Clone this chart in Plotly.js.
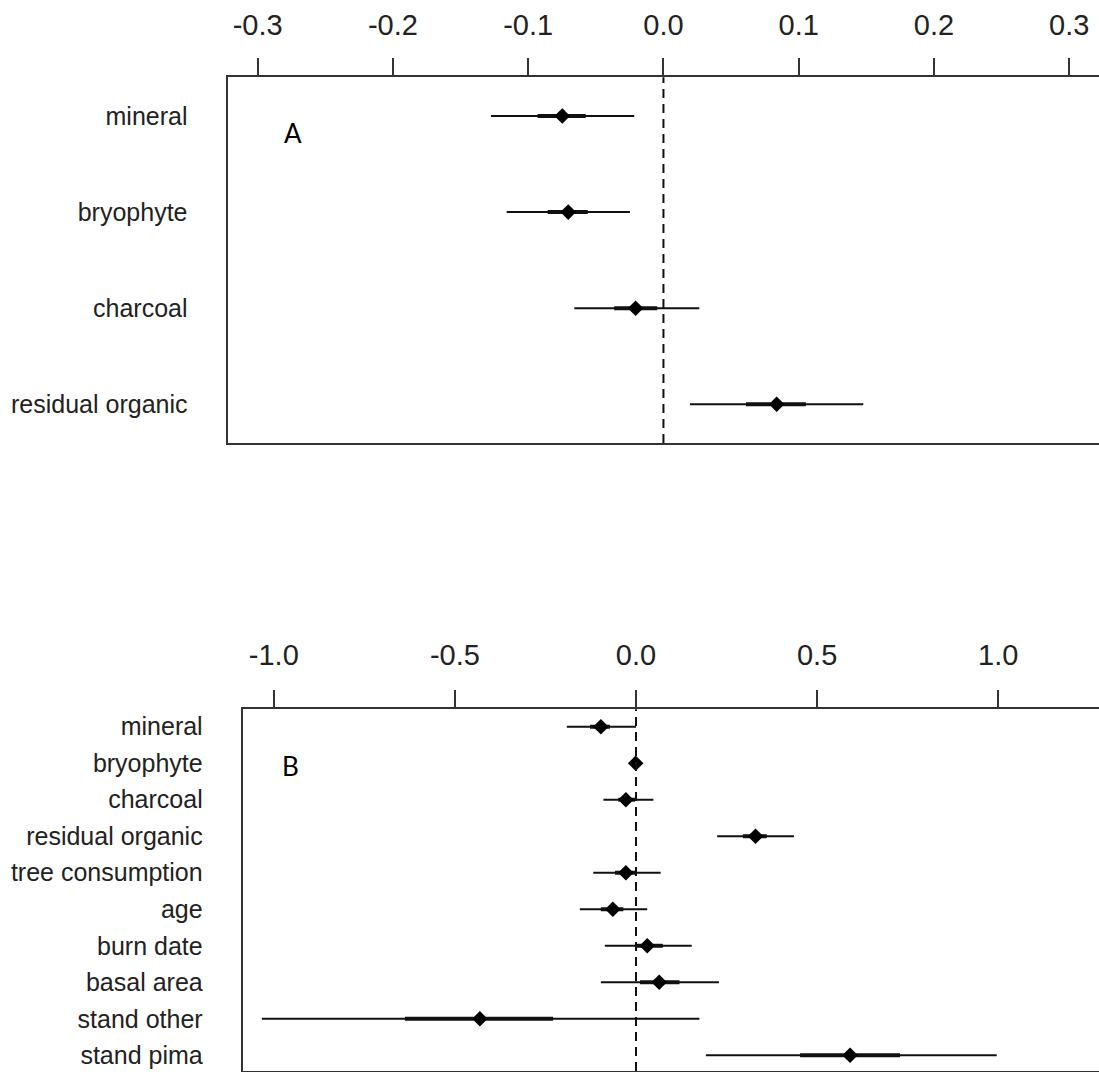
<!DOCTYPE html>
<html>
<head>
<meta charset="utf-8">
<script src="https://cdn.plot.ly/plotly-3.0.1.min.js"></script>
<style>html,body{margin:0;padding:0;background:#fff;}#chart{width:1099px;height:1072px;}</style>
</head>
<body>
<div id="chart"></div>
<script>
// ---------- Panel A data ----------
const catsA = ["mineral", "bryophyte", "charcoal", "residual organic"];
const estA = [-0.0748, -0.0704, -0.0206, 0.0837];
const outerLoA = [-0.1275, -0.1159, -0.0659, 0.0196];
const outerHiA = [-0.0216, -0.0248, 0.0265, 0.1477];
const innerLoA = [-0.0930, -0.0856, -0.0364, 0.0610];
const innerHiA = [-0.0575, -0.0560, -0.0046, 0.1053];
const tickValsA = [-0.3, -0.2, -0.1, 0.0, 0.1, 0.2, 0.3];
const tickTextA = ["-0.3", "-0.2", "-0.1", "0.0", "0.1", "0.2", "0.3"];

// ---------- Panel B data ----------
const catsB = ["mineral", "bryophyte", "charcoal", "residual organic", "tree consumption",
               "age", "burn date", "basal area", "stand other", "stand pima"];
const estB = [-0.097, -0.001, -0.028, 0.330, -0.028, -0.064, 0.031, 0.064, -0.431, 0.591];
const outerLoB = [-0.191, -0.008, -0.090, 0.224, -0.118, -0.155, -0.086, -0.097, -1.033, 0.193];
const outerHiB = [0.000, 0.006, 0.048, 0.436, 0.068, 0.031, 0.154, 0.229, 0.175, 0.996];
const innerLoB = [-0.127, -0.004, -0.049, 0.295, -0.058, -0.097, -0.003, 0.011, -0.638, 0.453];
const innerHiB = [-0.072, 0.003, -0.003, 0.361, 0.002, -0.035, 0.074, 0.120, -0.229, 0.729];
const tickValsB = [-1.0, -0.5, 0.0, 0.5, 1.0];
const tickTextB = ["-1.0", "-0.5", "0.0", "0.5", "1.0"];

const LINE = "#333";
const TEXT = "#222";
const FONT = "Liberation Sans, Arial, sans-serif";

function segs(cats, lo, hi) {
  const x = [], y = [];
  cats.forEach((c, i) => { x.push(lo[i], hi[i], null); y.push(c, c, null); });
  return {x, y};
}

function panelTraces(cats, est, oLo, oHi, iLo, iHi, xa, ya) {
  const o = segs(cats, oLo, oHi), n = segs(cats, iLo, iHi);
  return [
    {type: "scatter", mode: "lines", x: o.x, y: o.y, xaxis: xa, yaxis: ya,
     line: {color: "#111", width: 2}, connectgaps: false, showlegend: false, hoverinfo: "skip"},
    {type: "scatter", mode: "lines", x: n.x, y: n.y, xaxis: xa, yaxis: ya,
     line: {color: "#111", width: 4}, connectgaps: false, showlegend: false, hoverinfo: "skip"},
    {type: "scatter", mode: "markers", x: est, y: cats, xaxis: xa, yaxis: ya,
     marker: {symbol: "diamond", size: 12, color: "#000"}, showlegend: false, hoverinfo: "skip"}
  ];
}

const data = [
  ...panelTraces(catsA, estA, outerLoA, outerHiA, innerLoA, innerHiA, "x", "y"),
  ...panelTraces(catsB, estB, outerLoB, outerHiB, innerLoB, innerHiB, "x2", "y2")
];

function xAxis(range, vals, text, domain, anchor, standoff) {
  return {
    domain: domain, anchor: anchor, side: "top", range: range,
    tickmode: "array", tickvals: vals, ticktext: text,
    ticks: "outside", ticklen: 17, tickwidth: 2, tickcolor: LINE,
    ticklabelstandoff: standoff,
    showline: true, mirror: true, linecolor: LINE, linewidth: 2,
    showgrid: false, zeroline: false,
    tickfont: {family: FONT, size: 29, color: TEXT}
  };
}
function yAxis(cats, range, domain, anchor) {
  return {
    domain: domain, anchor: anchor, type: "category",
    categoryorder: "array", categoryarray: cats, range: range,
    ticks: "", ticklabelstandoff: 33,
    showline: true, mirror: false, linecolor: LINE, linewidth: 2,
    showgrid: false, zeroline: false,
    tickfont: {family: FONT, size: 25, color: TEXT}
  };
}

const W = 1099, H = 1072;
const layout = {
  width: W, height: H,
  margin: {l: 0, r: 0, t: 0, b: 0},
  paper_bgcolor: "#fff", plot_bgcolor: "#fff",
  xaxis: xAxis([-0.3223, 0.322], tickValsA, tickTextA, [227.5 / W, 1], "y", 12),
  yaxis: yAxis(catsA, [3.403, -0.403], [1 - 443 / H, 1 - 77.3 / H], "x"),
  xaxis2: xAxis([-1.0859, 1.2783], tickValsB, tickTextB, [242.7 / W, 1], "y2", 14),
  yaxis2: yAxis(catsB, [9.43, -0.476], [1 - 1071 / H, 1 - 709.3 / H], "x2"),
  shapes: [
    {type: "line", xref: "x", yref: "y domain", x0: 0, x1: 0, y0: 0, y1: 1,
     line: {color: "#111", width: 2, dash: "9px,6px"}},
    {type: "line", xref: "x2", yref: "y2 domain", x0: 0, x1: 0, y0: 0, y1: 1,
     line: {color: "#111", width: 2, dash: "9px,6px"}}
  ],
  annotations: [
    {text: "A", xref: "paper", yref: "paper", x: 293 / W, y: 1 - 133 / H,
     showarrow: false, xanchor: "center", yanchor: "middle",
     font: {family: "Lato, Open Sans, sans-serif", size: 26, color: "#000"}},
    {text: "B", xref: "paper", yref: "paper", x: 291 / W, y: 1 - 766 / H,
     showarrow: false, xanchor: "center", yanchor: "middle",
     font: {family: "Lato, Open Sans, sans-serif", size: 26, color: "#000"}}
  ],
  hovermode: false
};

Plotly.newPlot("chart", data, layout, {staticPlot: true, displayModeBar: false});
</script>
</body>
</html>
